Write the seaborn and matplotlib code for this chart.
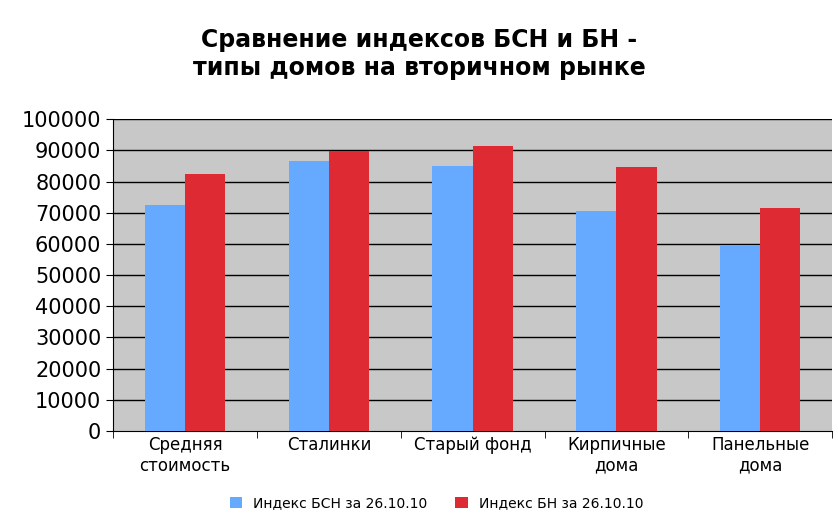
import matplotlib
matplotlib.use("Agg")
import matplotlib.pyplot as plt
import seaborn as sns
import pandas as pd

categories = ["Средняя\nстоимость", "Сталинки", "Старый фонд", "Кирпичные\nдома", "Панельные\nдома"]
bsn = [72400, 86500, 84900, 70500, 59600]
bn = [82400, 89700, 91300, 84600, 71500]
series = ["Индекс БСН за 26.10.10", "Индекс БН за 26.10.10"]

df = pd.DataFrame({
    "cat": categories * 2,
    "val": bsn + bn,
    "s": [series[0]] * 5 + [series[1]] * 5,
})

sns.set_style("white")
plt.rcParams['font.family'] = ['DejaVu Sans']
plt.rcParams['text.color'] = 'black'
plt.rcParams['xtick.color'] = 'black'
plt.rcParams['ytick.color'] = 'black'
fig = plt.figure(figsize=(8.38, 5.16), dpi=100)
ax = fig.add_axes([0.135, 0.165, 0.858, 0.604])
ax.set_facecolor("#c8c8c8")
for y in range(10000, 100001, 10000):
    ax.axhline(y, color="black", lw=1, zorder=0)
sns.barplot(data=df, x="cat", y="val", hue="s", palette=["#66aaff", "#dd2a33"],
            width=0.56, ax=ax, zorder=3, legend=True, saturation=1, linewidth=0)
ax.set_ylim(0, 100000)
ax.set_xlim(-0.5, 4.5)
ax.set_yticks(range(0, 100001, 10000))
ax.tick_params(axis="y", labelsize=15, length=5, direction="out", left=True)
ax.tick_params(axis="x", labelsize=12, length=0)
ax.set_xlabel("")
ax.set_ylabel("")
for s in ["top", "right"]:
    ax.spines[s].set_visible(False)
ax.spines["left"].set_color("black")
ax.spines["bottom"].set_color("black")
ax.set_xticks([-0.5 + i for i in range(6)], minor=True)
ax.tick_params(axis="x", which="minor", length=5, bottom=True)
leg = ax.legend(loc="upper center", bbox_to_anchor=(0.45, -0.17), ncol=2, frameon=False,
                fontsize=10, handlelength=0.9, handleheight=0.9, columnspacing=2)
fig.suptitle("Сравнение индексов БСН и БН -\nтипы домов на вторичном рынке",
             fontsize=17, fontweight="bold", x=0.5, y=0.945, color="black")
fig.savefig("out.png", dpi=100, facecolor="white")
